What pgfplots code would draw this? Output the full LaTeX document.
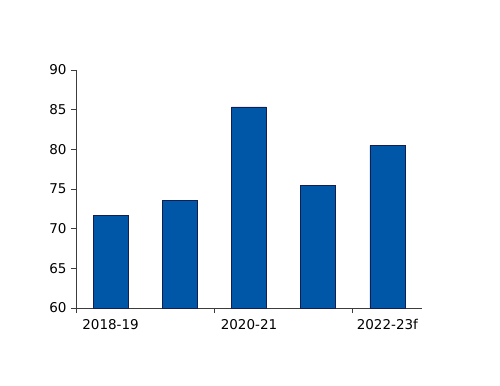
\documentclass[border=0pt]{standalone}
\usepackage{fontspec}
\setmainfont{DejaVu Sans}
\usepackage{pgfplots}
\pgfplotsset{compat=1.18}
\definecolor{barblue}{RGB}{0,87,168}
\definecolor{barline}{RGB}{20,30,80}
\definecolor{axisgray}{RGB}{60,60,60}
\begin{document}
\begin{tikzpicture}
\path[use as bounding box] (-76bp,-78bp) rectangle (424bp,308bp);
\begin{axis}[
  at={(0,0)}, anchor=south west,
  scale only axis,
  width=346bp, height=238bp,
  xmin=-0.5, xmax=4.5,
  ymin=60, ymax=90,
  ytick={60,65,...,90},
  xtick={-0.5,1.5,3.5},
  xticklabels={},
  extra x ticks={0,2,4},
  extra x tick labels={2018-19,2020-21,2022-23f},
  extra x tick style={major tick length=0pt, xticklabel style={yshift=-8bp}},
  axis lines=left,
  axis line style={-, draw=axisgray, line width=0.8pt},
  tick align=outside,
  major tick length=5bp,
  tick style={draw=axisgray, line width=0.8pt},
  /pgf/number format/assume math mode=true,
  tick label style={font=\fontsize{13.5bp}{15bp}\selectfont, text=black},
  yticklabel style={xshift=-1bp},
  clip=false,
]
\addplot[ybar, bar width=35bp, fill=barblue, draw=barline, line width=0.6pt]
  coordinates {(0,71.65) (1,73.55) (2,85.35) (3,75.45) (4,80.5)};
\end{axis}
\end{tikzpicture}
\end{document}
